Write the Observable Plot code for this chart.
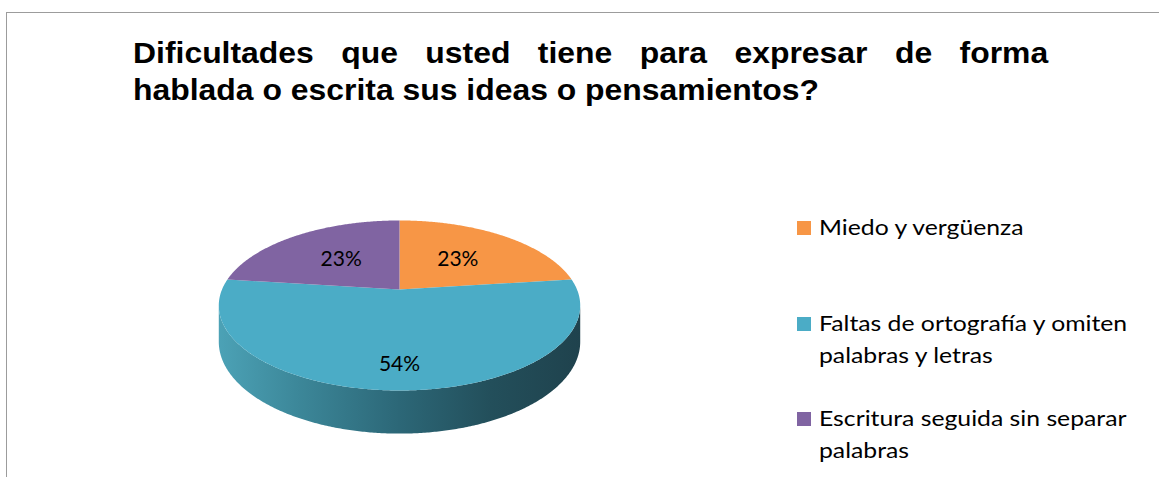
<!DOCTYPE html>
<html>
<head>
<meta charset="utf-8">
<script src="https://cdn.jsdelivr.net/npm/d3@7"></script>
<script src="https://cdn.jsdelivr.net/npm/@observablehq/plot@0.6"></script>
<style>
  html, body { margin: 0; padding: 0; background: #fff; overflow: hidden; }
  #wrap { position: relative; width: 1159px; height: 477px; overflow: hidden; }
  #frame { position: absolute; left: 6px; top: 12px; width: 2000px; height: 1000px;
           border-left: 1px solid #9c9c9c; border-top: 1px solid #9c9c9c; }
  #title { position: absolute; left: 133px; top: 35px; font-family: "Liberation Sans", Arial, sans-serif;
           font-weight: bold; font-size: 29px; line-height: 37px; color: #000;
           transform: scaleX(1.1); transform-origin: 0 0; }
  #title .l1 { width: 832px; text-align: justify; text-align-last: justify; }
  #title .l2 { white-space: nowrap; }
  #chart { position: absolute; left: 0; top: 150px; }
  #legend { position: absolute; left: 797px; top: 0; font-family: Lato, "Open Sans", sans-serif;
            font-size: 22px; line-height: 32px; color: #000; }
  .item { position: absolute; left: 0; width: 340px; }
  .sw { position: absolute; left: 0; width: 14px; height: 14px; }
  .tx { position: absolute; left: 22px; width: 285px; transform: scaleX(1.125); transform-origin: 0 0; }
</style>
</head>
<body>
<div id="wrap">
  <div id="frame"></div>
  <div id="title"></div>
  <div id="chart"></div>
  <div id="legend"></div>
</div>
<script>
// ---- data ----
const titleLine1 = "Dificultades que usted tiene para expresar de forma";
const titleLine2 = "hablada o escrita sus ideas o pensamientos?";
const categories = ["Miedo y vergüenza", "Faltas de ortografía y omiten palabras y letras", "Escritura seguida sin separar palabras"];
const values = [23, 54, 23];
const colors = ["#f79646", "#4bacc6", "#8064a2"];
const labels = ["23%", "54%", "23%"];

// ---- title ----
const t = document.getElementById("title");
const d1 = document.createElement("div"); d1.className = "l1"; d1.textContent = titleLine1;
const d2 = document.createElement("div"); d2.className = "l2"; d2.textContent = titleLine2;
t.append(d1, d2);

// ---- 3D pie geometry (perspective projection of a tilted disc) ----
const W = 1159, H = 327;
const cx = 399, cy = 139, ax = 177.5, ay = 82, k = -0.188, depth = 0.427;
function proj(theta, r, d) {
  const X = r * Math.sin(theta), Y = -r * Math.cos(theta);
  const D = 1 + k * Y;
  return {u: X / D, v: (Y + d) / D};
}
const total = d3.sum(values);
let acc = 0;
const slices = values.map((v, i) => {
  const a0 = acc / total * 2 * Math.PI; acc += v;
  const a1 = acc / total * 2 * Math.PI;
  return {i, a0, a1, category: categories[i], color: colors[i], label: labels[i], value: v};
});
const step = Math.PI / 360;
function arc(a0, a1, r, d) {
  const pts = [];
  const n = Math.max(2, Math.ceil((a1 - a0) / step));
  for (let j = 0; j <= n; j++) pts.push(proj(a0 + (a1 - a0) * j / n, r, d));
  return pts;
}
const sliceRows = slices.map(s => [proj(0, 0, 0), ...arc(s.a0, s.a1, 1, 0)]);
// visible outer wall: between the silhouette angles
const thE = Math.acos(k);
const sideRows = [...arc(thE, 2 * Math.PI - thE, 1, 0), ...arc(thE, 2 * Math.PI - thE, 1, depth).reverse()];
const labelRows = slices.map(s => {
  const m = (s.a0 + s.a1) / 2;
  const r = 0.35 + 0.8 * s.value / total;
  return {...proj(m, r, 0), label: s.label};
});

const gradMark = () => {
  const defs = document.createElementNS("http://www.w3.org/2000/svg", "defs");
  defs.innerHTML = `<linearGradient id="sideGrad" gradientUnits="userSpaceOnUse" x1="${cx - ax * 1.02}" y1="0" x2="${cx + ax * 1.02}" y2="0">
    <stop offset="0" stop-color="#4ca2b6"/>
    <stop offset="0.22" stop-color="#3c8799"/>
    <stop offset="0.5" stop-color="#2c6777"/>
    <stop offset="0.75" stop-color="#234f5b"/>
    <stop offset="1" stop-color="#1f424d"/>
  </linearGradient>`;
  return defs;
};

const chart = Plot.plot({
  width: W, height: H,
  marginTop: 0, marginRight: 0, marginBottom: 0, marginLeft: 0,
  x: {domain: [-1, 1], range: [cx - ax, cx + ax], axis: null},
  y: {domain: [-1, 1], range: [cy - ay, cy + ay], axis: null},
  style: {background: "transparent"},
  marks: [
    gradMark,
    Plot.line(sideRows, {x: "u", y: "v", fill: "url(#sideGrad)", stroke: "none"}),
    ...sliceRows.map((rows, i) => Plot.line(rows, {x: "u", y: "v", fill: colors[i], stroke: "none"})),
    Plot.text(labelRows, {x: "u", y: "v", text: "label", fontSize: 21, fontFamily: "Lato, 'Open Sans', sans-serif", fill: "#000"})
  ]
});
document.getElementById("chart").append(chart);

// ---- legend ----
const legend = document.getElementById("legend");
const itemTops = [211, 307, 402];
slices.forEach((s, i) => {
  const it = document.createElement("div"); it.className = "item"; it.style.top = itemTops[i] + "px";
  const sw = document.createElement("div"); sw.className = "sw"; sw.style.background = s.color; sw.style.top = "10px";
  const tx = document.createElement("div"); tx.className = "tx"; tx.textContent = s.category;
  it.append(sw, tx); legend.append(it);
});
</script>
</body>
</html>
